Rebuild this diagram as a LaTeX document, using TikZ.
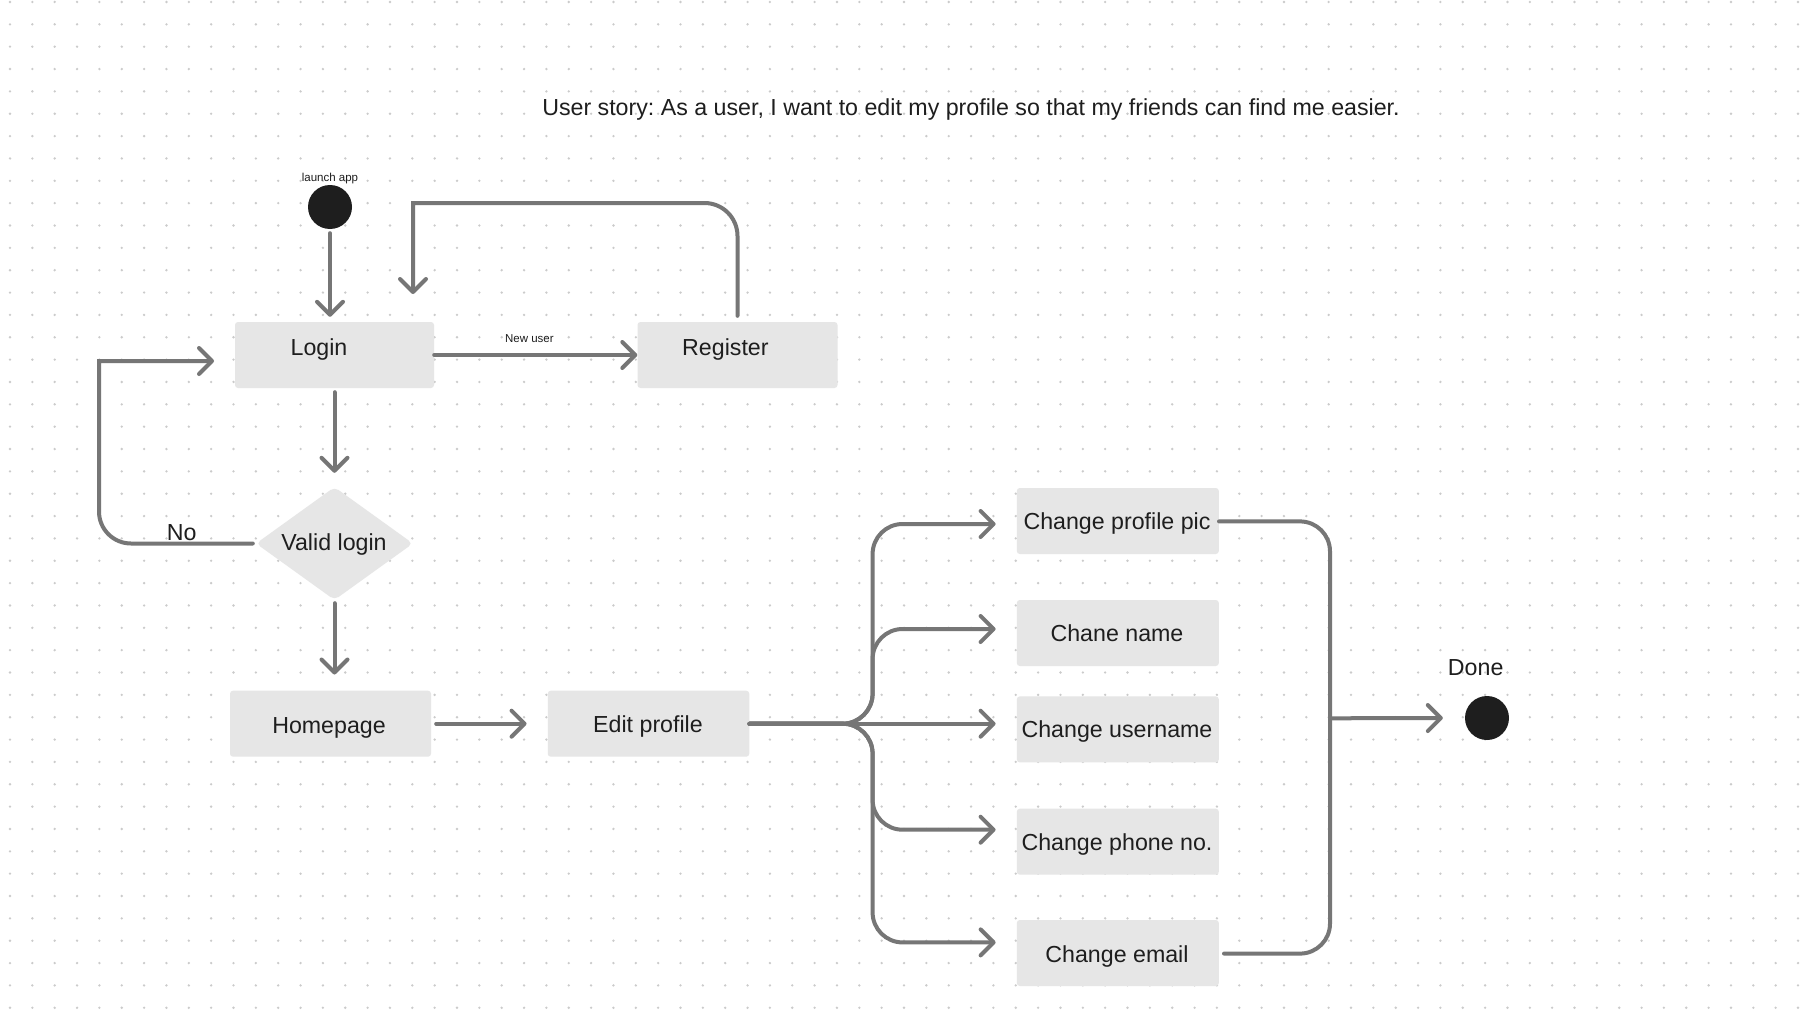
\documentclass[tikz,border=0pt]{standalone}
\usepackage{fontspec}
\setmainfont{Liberation Sans}
\usetikzlibrary{arrows.meta,shapes.geometric}
\definecolor{ink}{HTML}{1E1E1E}
\definecolor{linegray}{HTML}{767676}
\definecolor{boxgray}{HTML}{E6E6E6}
\definecolor{dotgray}{HTML}{CBCBCB}
\frenchspacing
\begin{document}
\begin{tikzpicture}[x=1pt,y=-1pt,
  box/.style={fill=boxgray, rounded corners=3pt, minimum width=200pt, minimum height=66pt, inner sep=0pt},
  txt/.style={font=\fontsize{23.2}{28}\selectfont, text=ink, inner sep=0pt, anchor=base},
  small/.style={font=\fontsize{11.5}{14}\selectfont, text=ink, inner sep=0pt, anchor=base},
  conn/.style={draw=linegray, line width=4pt, line cap=round, -{Straight Barb[length=13pt,width=26pt,round]}},
  plainline/.style={draw=linegray, line width=4pt, line cap=round},
  dotnode/.style={circle, fill=ink, minimum size=44pt, inner sep=0pt}]
\useasboundingbox (0,0) rectangle (1807,1030);
\fill[white] (0,0) rectangle (1807,1030);
% dot grid
\foreach \j in {0,...,45} {
  \fill[dotgray] \foreach \i in {0,...,80} { (10+22.35*\i, 2+22.35*\j) circle (1.3pt) };
}

% title
\node[txt] (title) at (971,116) {User story: As a user, I want to edit my profile so that my friends can find me easier.};

% nodes
\node[dotnode] (start) at (330,207) {};
\node[small] (launchT) at (330,182) {launch app};
\node[box, minimum width=199pt] (login) at (334.5,355) {};
\node[txt] (loginT) at (319,355.5) {Login};
\node[box] (register) at (737.5,355) {};
\node[txt] (registerT) at (725.4,355.5) {Register};
\node[small] (newT) at (529.4,342.7) {New user};
\node[diamond, fill=boxgray, minimum width=157pt, minimum height=113pt, inner sep=0pt, rounded corners=5pt] (valid) at (334.5,543.5) {};
\node[txt] (validT) at (334,550) {Valid login};
\node[txt] (noT) at (181.7,540) {No};
\node[box, minimum width=201pt] (home) at (330.5,723.7) {};
\node[txt] (homeT) at (329,733) {Homepage};
\node[box, minimum width=201.5pt] (edit) at (648.5,723.7) {};
\node[txt] (editT) at (648,732.5) {Edit profile};
\node[box, minimum width=202pt] (pic) at (1117.8,521) {};
\node[txt] (picT) at (1117,529.5) {Change profile pic};
\node[box, minimum width=202pt] (name) at (1117.8,633) {};
\node[txt] (nameT) at (1117,641.5) {Chane name};
\node[box, minimum width=202pt] (user) at (1117.8,729.4) {};
\node[txt] (userT) at (1117,737.5) {Change username};
\node[box, minimum width=202pt] (phone) at (1117.8,841.7) {};
\node[txt] (phoneT) at (1117,850) {Change phone no.};
\node[box, minimum width=202pt] (email) at (1117.8,953) {};
\node[txt] (emailT) at (1117,962) {Change email};
\node[dotnode] (done) at (1487,718) {};
\node[txt] (doneT) at (1475.7,675) {Done};

% free ends
\coordinate (loopend) at (413,294);
\coordinate (noend) at (214,361);
\coordinate (joinmid) at (1330,718.3);

% connectors
\draw[conn] ([yshift=-4pt]start.south) -- ([yshift=5pt]start.south |- login.north);
\draw[conn] (login.east) -- (login.east -| register.west);
\draw[conn] ([yshift=6pt]register.north) -- (737.5,236) .. controls (737.5,217.8) and (722.7,203) .. (704.5,203) -- (413,203) -- (loopend);
\draw[conn] ([yshift=-4pt]login.south -| valid.north) -- ([yshift=14pt]valid.north);
\draw[conn] ([xshift=-3pt]valid.west) -- (131,543.5) .. controls (113.3,543.5) and (99,529.2) .. (99,511.5) -- (99,361) -- (noend);
\draw[conn] ([yshift=-3pt]valid.south) -- ([yshift=16pt]valid.south |- home.north);
\draw[conn] ([xshift=5pt]home.east) -- ([xshift=-21pt]edit.west);

\draw[conn, rounded corners=30pt] (edit.east) -- (872.6,723.7) -- (872.6,524) -- ([xshift=-21pt]pic.west |- 0,524);
\draw[conn, rounded corners=30pt] (edit.east) -- (872.6,723.7) -- (872.6,629) -- ([xshift=-21pt]name.west |- 0,629);
\draw[conn] (edit.east) -- ([xshift=-21pt]user.west |- edit.east);
\draw[conn, rounded corners=30pt] (edit.east) -- (872.6,723.7) -- (872.6,829.7) -- ([xshift=-21pt]phone.west |- 0,829.7);
\draw[conn, rounded corners=30pt] (edit.east) -- (872.6,723.7) -- (872.6,942.4) -- ([xshift=-21pt]email.west |- 0,942.4);

\draw[plainline, rounded corners=30pt] (pic.east |- 0,521.4) -- (1330,521.4) -- (1330,953.6) -- ([xshift=5pt]email.east |- 0,953.6);
\draw[conn] (joinmid) -- ([xshift=-22pt]done.west);
\end{tikzpicture}
\end{document}
